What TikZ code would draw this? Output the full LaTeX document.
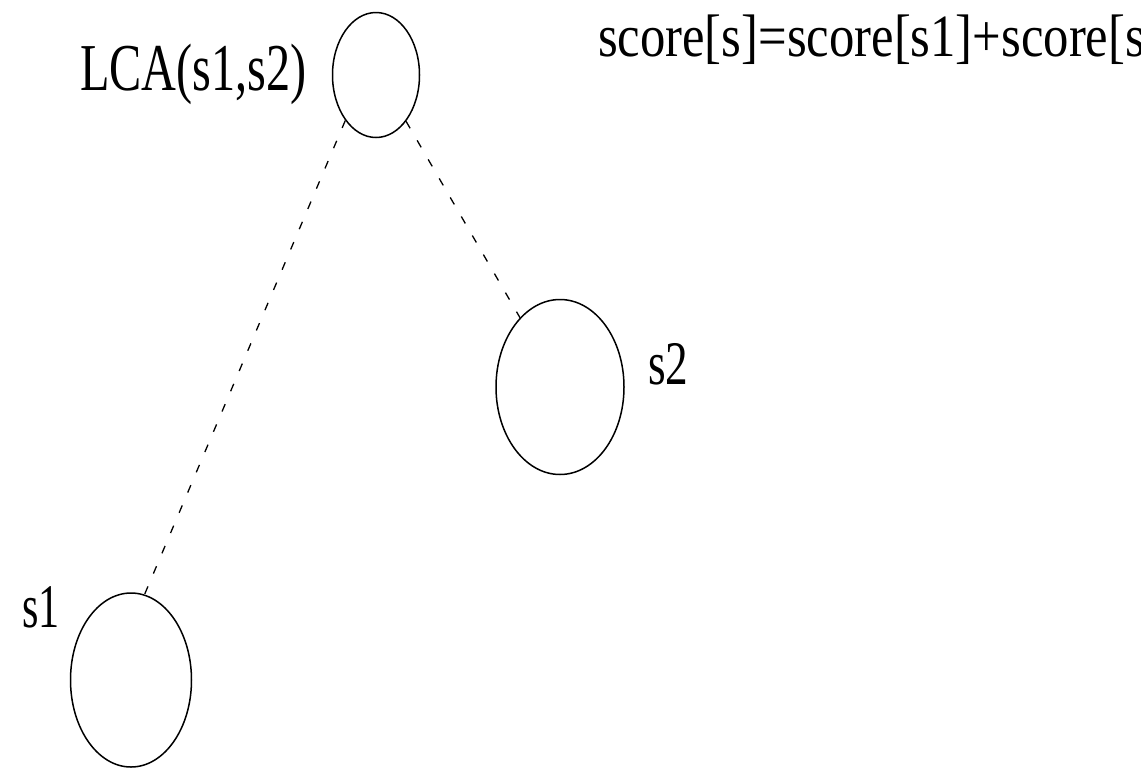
\documentclass[tikz,border=0pt]{standalone}
\usepackage{fontspec}
\usepackage{graphicx}
\setmainfont{Liberation Serif}
\usetikzlibrary{shapes.geometric}
\tikzset{
  vert/.style={ellipse, draw=black, line width=1.5pt, inner sep=0pt},
  link/.style={draw=black, line width=1.3pt, dash pattern=on 8pt off 14pt},
  lbl/.style={anchor=base west, inner sep=0pt, outer sep=0pt}
}
\begin{document}
\begin{tikzpicture}[x=1pt, y=-1pt]
\clip (0,0) rectangle (1141,769);
\fill[white] (0,0) rectangle (1141,769);
\node[vert, minimum width=87pt, minimum height=125pt] (lca) at (376,75) {};
\node[vert, minimum width=128pt, minimum height=175pt] (s2) at (560,387) {};
\node[vert, minimum width=121pt, minimum height=174pt] (s1) at (131,680) {};
\draw[link] (lca.236) -- (s1.81);
\draw[link] (lca.303) -- (s2.120);
\node[lbl] (tlca) at (80,90) {\fontsize{67}{72}\selectfont\scalebox{0.72}[1]{LCA(s1,s2)}};
\node[lbl] (tscore) at (598,56) {\fontsize{60}{66}\selectfont\scalebox{0.845}[1]{score[s]=score[s1]+score[s2]}};
\node[lbl] (ts2) at (648,384) {\fontsize{62}{68}\selectfont\scalebox{0.73}[1]{s2}};
\node[lbl] (ts1) at (22,627) {\fontsize{62}{68}\selectfont\scalebox{0.68}[1]{s1}};
\end{tikzpicture}
\end{document}
